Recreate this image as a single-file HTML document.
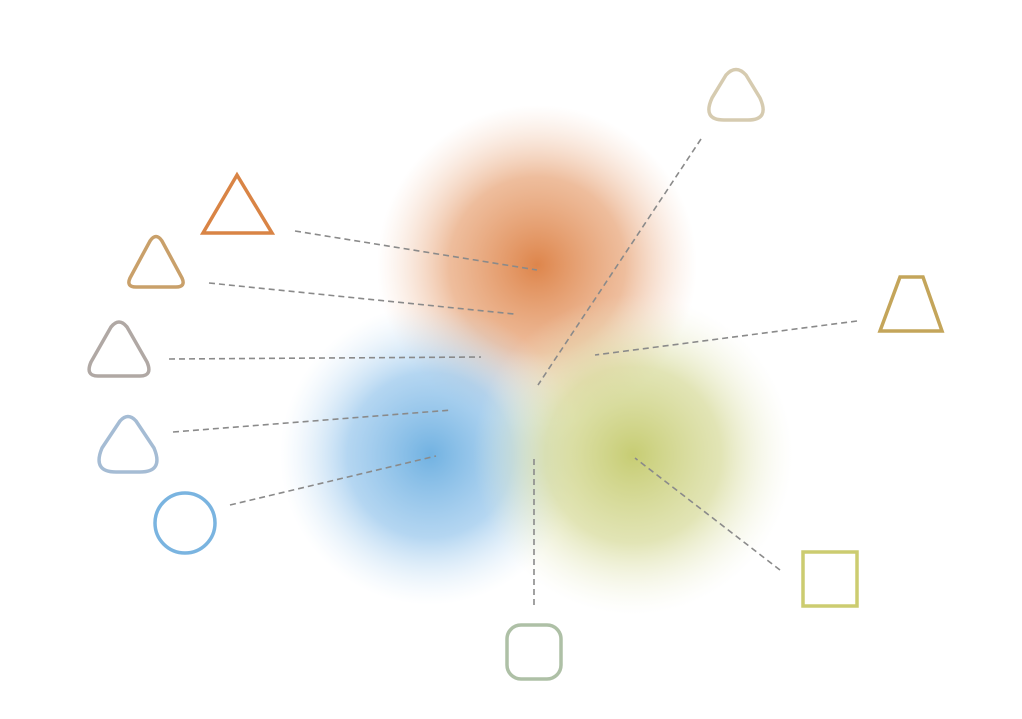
<!DOCTYPE html>
<html><head><meta charset="utf-8"><style>
html,body{margin:0;padding:0;background:#fff;}
svg{display:block;font-family:"Liberation Sans",sans-serif;}
</style></head><body>
<svg id="chart" width="1022" height="719" viewBox="0 0 1022 719" xmlns="http://www.w3.org/2000/svg">
<defs>
<radialGradient id="gO"><stop offset="0" stop-color="#dc7f42" stop-opacity="0.95"/><stop offset="0.55" stop-color="#e59a68" stop-opacity="0.65"/><stop offset="1" stop-color="#f2c8ae" stop-opacity="0"/></radialGradient>
<radialGradient id="gB"><stop offset="0" stop-color="#6aaee0" stop-opacity="0.95"/><stop offset="0.55" stop-color="#8cc0ea" stop-opacity="0.65"/><stop offset="1" stop-color="#cfe4f6" stop-opacity="0"/></radialGradient>
<radialGradient id="gG"><stop offset="0" stop-color="#c4ca6c" stop-opacity="0.95"/><stop offset="0.55" stop-color="#d2d68e" stop-opacity="0.65"/><stop offset="1" stop-color="#eef0d8" stop-opacity="0"/></radialGradient>
</defs>
<g id="blobs"></g>
<g id="lines"></g>
<g id="shapes"></g>
</svg>
<script>
const blobNames=['orange-set','blue-set','green-set'];
const blobX=[537,430,633];
const blobY=[265,455,455];
const blobR=[160,150,160];
const blobFill=['url(#gO)','url(#gB)','url(#gG)'];
const itemNames=['orange-triangle','tan-triangle','gray-triangle','bluegray-triangle','blue-circle','green-rounded-square','yellow-square','gold-trapezoid','beige-triangle'];
const lineStart=[[295,231],[209,283],[169,359],[173,432],[230,505],[534,605],[780,570],[857,321],[701,139]];
const lineEnd=[[537,270],[514,314],[481,357],[452,410],[436,456],[534,455],[635,458],[595,355],[538,385]];
const NS='http://www.w3.org/2000/svg';
const gb=document.getElementById('blobs'),gl=document.getElementById('lines'),gs=document.getElementById('shapes');
function mk(t,a,p){const e=document.createElementNS(NS,t);for(const k in a)e.setAttribute(k,a[k]);p.appendChild(e);return e;}
blobNames.forEach((n,i)=>{const c=mk('circle',{cx:blobX[i],cy:blobY[i],r:blobR[i],fill:blobFill[i]},gb);

});
itemNames.forEach((n,i)=>{const l=mk('line',{x1:lineStart[i][0],y1:lineStart[i][1],x2:lineEnd[i][0],y2:lineEnd[i][1],stroke:'#8a8a8a','stroke-width':1.6,'stroke-dasharray':'6,4'},gl);

});
const shapeMarkup=[
['orange-triangle','<path d="M237,175 L272,233 L203,233 Z" fill="none" stroke="#d98445" stroke-width="3.5" stroke-linejoin="miter"/>'],
['tan-triangle','<path d="M150,241 Q156,232 162,241 L182,278 Q186,287 176,287 L136,287 Q126,287 130,278 Z" fill="none" stroke="#c9a06a" stroke-width="3.5"/>'],
['gray-triangle','<path d="M111,327 Q119,317 127,327 L147,362 Q153,376 140,376 L98,376 Q85,376 91,362 Z" fill="none" stroke="#b0a8a4" stroke-width="3.5"/>'],
['bluegray-triangle','<path d="M120,421 Q128,412 136,421 L154,448 Q164,472 140,472 L116,472 Q92,472 102,448 Z" fill="none" stroke="#a5bcd4" stroke-width="3.5"/>'],
['blue-circle','<circle cx="185" cy="523" r="30" fill="none" stroke="#7ab4e0" stroke-width="3.5"/>'],
['green-rounded-square','<rect x="507" y="625" width="54" height="54" rx="14" fill="none" stroke="#aec0a6" stroke-width="3.5"/>'],
['yellow-square','<rect x="803" y="552" width="54" height="54" fill="none" stroke="#cccc70" stroke-width="3.5"/>'],
['gold-trapezoid','<path d="M900,277 L923,277 L942,331 L880,331 Z" fill="none" stroke="#c4a55a" stroke-width="3.5"/>'],
['beige-triangle','<path d="M726,75 Q736,64 746,75 L760,98 Q770,120 748,120 L724,120 Q702,120 712,98 Z" fill="none" stroke="#d6cbb0" stroke-width="3.5"/>']
];
shapeMarkup.forEach(s=>{const g=mk('g',{},gs);g.innerHTML=s[1];

});
</script>
</body></html>
